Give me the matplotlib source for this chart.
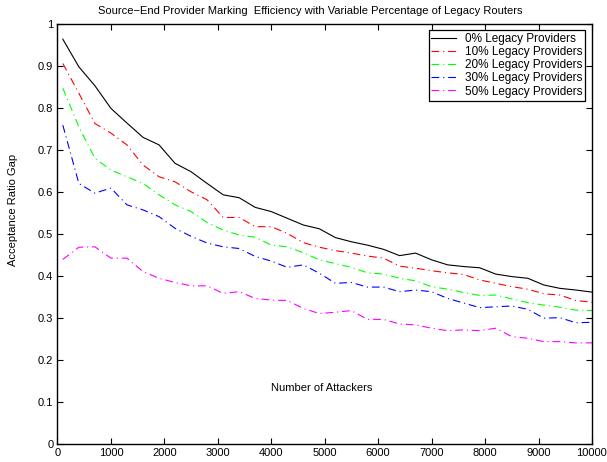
import numpy as np
import matplotlib.pyplot as plt

plt.rcParams['font.family'] = ['Liberation Sans', 'DejaVu Sans']

# Number of attackers (x axis)
attackers = np.arange(100, 10001, 300)

# Acceptance ratio gap for each share of legacy providers
legacy_0 = [0.965, 0.899, 0.854, 0.800, 0.765, 0.731, 0.713, 0.669, 0.649, 0.621,
            0.594, 0.587, 0.564, 0.554, 0.538, 0.522, 0.513, 0.492, 0.482, 0.474,
            0.464, 0.449, 0.455, 0.439, 0.427, 0.423, 0.420, 0.405, 0.399, 0.395,
            0.379, 0.371, 0.367, 0.362]
legacy_10 = [0.907, 0.836, 0.764, 0.741, 0.713, 0.665, 0.637, 0.625, 0.601, 0.582,
             0.540, 0.540, 0.518, 0.518, 0.502, 0.480, 0.469, 0.461, 0.455, 0.448,
             0.443, 0.424, 0.419, 0.413, 0.408, 0.404, 0.391, 0.383, 0.375, 0.369,
             0.358, 0.355, 0.342, 0.338]
legacy_20 = [0.848, 0.756, 0.681, 0.653, 0.637, 0.621, 0.594, 0.570, 0.554, 0.528,
             0.510, 0.498, 0.493, 0.474, 0.470, 0.456, 0.439, 0.430, 0.421, 0.408,
             0.405, 0.395, 0.389, 0.375, 0.369, 0.361, 0.354, 0.355, 0.346, 0.337,
             0.331, 0.326, 0.319, 0.318]
legacy_30 = [0.760, 0.621, 0.598, 0.610, 0.570, 0.558, 0.542, 0.514, 0.495, 0.479,
             0.470, 0.466, 0.447, 0.436, 0.421, 0.427, 0.407, 0.383, 0.385, 0.374,
             0.374, 0.363, 0.367, 0.363, 0.347, 0.336, 0.325, 0.327, 0.329, 0.321,
             0.300, 0.301, 0.289, 0.290]
legacy_50 = [0.440, 0.469, 0.470, 0.443, 0.443, 0.411, 0.395, 0.385, 0.377, 0.377,
             0.359, 0.363, 0.347, 0.343, 0.342, 0.323, 0.311, 0.314, 0.318, 0.297,
             0.297, 0.286, 0.284, 0.276, 0.270, 0.272, 0.270, 0.276, 0.256, 0.252,
             0.244, 0.244, 0.241, 0.241]

labels = ['0% Legacy Providers', '10% Legacy Providers', '20% Legacy Providers',
          '30% Legacy Providers', '50% Legacy Providers']
series = [legacy_0, legacy_10, legacy_20, legacy_30, legacy_50]
colors = ['k', '#ff0000', '#00ff00', '#0000ff', '#ff00ff']
dashdot = (0, (7, 3.5, 1, 3.5))
styles = ['-', dashdot, dashdot, dashdot, dashdot]

xticks = np.arange(0, 10001, 1000)
yticks = np.round(np.arange(0, 1.01, 0.1), 1)

fig = plt.figure(figsize=(6.07, 4.62), dpi=100)
ax = fig.add_axes([0.0947, 0.039, 0.8805, 0.908])

for vals, lab, c, ls in zip(series, labels, colors, styles):
    ax.plot(attackers, vals, color=c, linestyle=ls, lw=0.8, label=lab)

ax.set_xlim(0, 10000)
ax.set_ylim(0, 1)
ax.set_xticks(xticks)
ax.set_xticklabels([str(t) for t in xticks])
ax.set_yticks(yticks)
ax.set_yticklabels(['0' if t == 0 else ('1' if t == 1 else f'{t:g}') for t in yticks])
ax.tick_params(direction='in', top=True, right=True, length=4, width=0.8,
               labelsize=8, pad=3)
for sp in ax.spines.values():
    sp.set_linewidth(1.0)

ax.text(0.495, 0.133, 'Number of Attackers', transform=ax.transAxes,
        ha='center', va='center', fontsize=8)
fig.text(0.022, 0.545, 'Acceptance Ratio Gap', rotation=90,
         ha='center', va='center', fontsize=8)
fig.text(0.511, 0.976,
         'Source\u2212End Provider Marking  Efficiency with Variable Percentage of Legacy Routers',
         ha='center', va='center', fontsize=8)

leg = ax.legend(loc='upper right', fontsize=8.5, frameon=True, fancybox=False,
                edgecolor='k', framealpha=1, borderpad=0.25, labelspacing=0.1,
                handlelength=2.1, handletextpad=0.7, borderaxespad=0,
                bbox_to_anchor=(0.987, 0.987))
leg.get_frame().set_linewidth(0.9)

fig.savefig('out.png', dpi=100)
